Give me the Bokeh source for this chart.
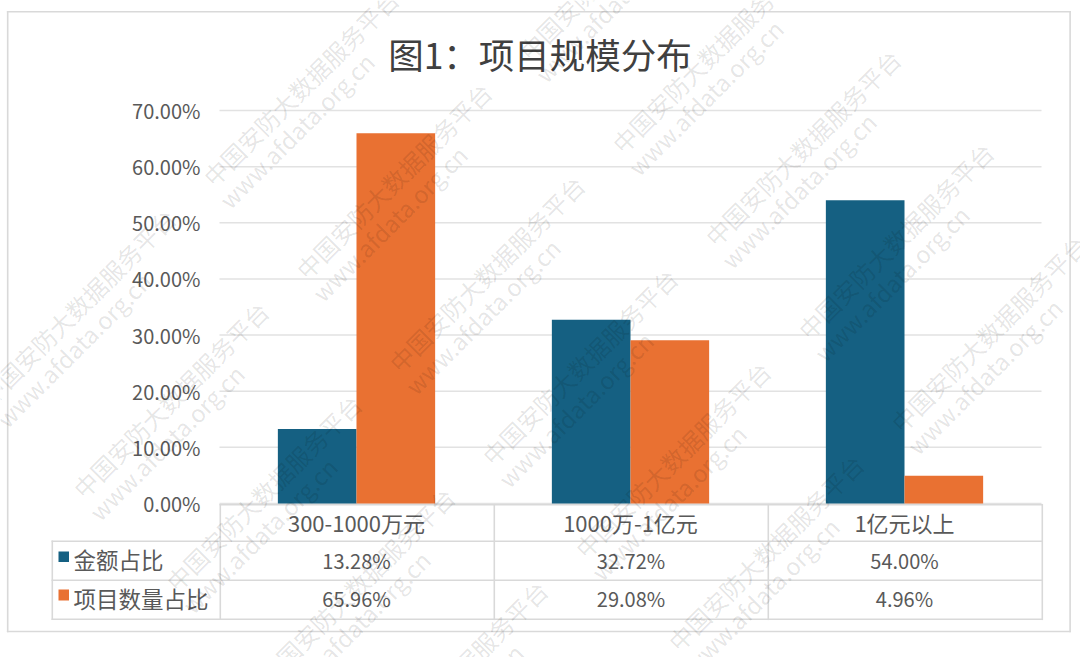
from bokeh.plotting import figure
from bokeh.models import (BoxAnnotation, ColumnDataSource, FixedTicker, Label, LinearAxis,
                          PrintfTickFormatter, Range1d)
from bokeh.embed import file_html
from bokeh.resources import INLINE

TITLE = "图1：项目规模分布"
categories = ["300-1000万元", "1000万-1亿元", "1亿元以上"]
amount_share = [13.28, 32.72, 54.00]
count_share = [65.96, 29.08, 4.96]
series_names = ["金额占比", "项目数量占比"]
y_ticks = [0, 10, 20, 30, 40, 50, 60, 70]
WM_MAIN = "中国安防大数据服务平台"
WM_URL = "www.afdata.org.cn"

BLUE = "#156082"
ORANGE = "#E97132"
GRID = "#e2e2e2"
RULE = "#d9d9d9"
TEXT = "#595959"
FONT = "Noto Sans CJK SC"

W, H = 1080, 657
P_L, P_R, P_T, P_B = 219, 1041, 110, 503  # plot area edges in window pixels
X_PX = (P_R - P_L) / 3
Y_PX = (P_B - P_T) / 70

p = figure(width=W, height=H, output_backend="svg", toolbar_location=None,
           x_range=Range1d(-P_L / X_PX, (W - P_L) / X_PX),
           y_range=Range1d(-(H - P_B) / Y_PX, 70 + P_T / Y_PX),
           x_axis_location=None, y_axis_location=None,
           min_border=0, outline_line_color=None,
           background_fill_color="white", border_fill_color="white")
p.grid.visible = False

centers = [i + 0.5 for i in range(len(categories))]
BAR = 0.287
src = ColumnDataSource(dict(
    x_a=[c - BAR / 2 for c in centers], x_c=[c + BAR / 2 for c in centers],
    amount=amount_share, count=count_share))

# horizontal gridlines
p.segment(x0=[0] * len(y_ticks), x1=[3] * len(y_ticks), y0=y_ticks, y1=y_ticks,
          line_color=GRID, line_width=1.5)

p.vbar(x="x_a", top="amount", width=BAR, source=src, fill_color=BLUE, line_color=None)
p.vbar(x="x_c", top="count", width=BAR, source=src, fill_color=ORANGE, line_color=None)

ya = LinearAxis(fixed_location=0, ticker=FixedTicker(ticks=y_ticks),
                formatter=PrintfTickFormatter(format="%.2f%%"))
ya.axis_line_color = None
ya.major_tick_line_color = None
ya.minor_tick_line_color = None
ya.major_tick_out = 0
ya.major_tick_in = 0
ya.major_label_standoff = 19
ya.major_label_text_font = FONT
ya.major_label_text_font_size = "20px"
ya.major_label_text_color = TEXT
p.add_layout(ya, "left")

xa = LinearAxis(fixed_location=0, ticker=FixedTicker(ticks=centers),
                major_label_overrides=dict(zip(centers, categories)))
xa.axis_line_color = None
xa.major_tick_line_color = None
xa.minor_tick_line_color = None
xa.major_tick_out = 0
xa.major_tick_in = 0
xa.major_label_standoff = 2
xa.major_label_text_font = FONT
xa.major_label_text_font_size = "22px"
xa.major_label_text_color = TEXT
p.add_layout(xa, "below")


def box(x0, x1, y0, y1, color):
    p.add_layout(BoxAnnotation(left=x0, right=x1, top=y0, bottom=y1,
                               left_units="canvas", right_units="canvas",
                               top_units="canvas", bottom_units="canvas",
                               fill_color=color, fill_alpha=1, line_color=None))


def label(x, y, text, size, color=TEXT, angle=0, alpha=1.0, align="center"):
    p.add_layout(Label(x=x, y=H - y, x_units="screen", y_units="screen",
                       text=text, text_font=FONT, text_font_size=size, text_color=color,
                       text_alpha=alpha, text_align=align, text_baseline="middle",
                       angle=angle, angle_units="deg"))


# outer chart frame
LW = 1.6
box(6.4, 1070.4, 10.4, 10.4 + LW, RULE)
box(6.4, 1070.4, 630.2, 630.2 + LW, RULE)
box(6.4, 6.4 + LW, 10.4, 631.8, RULE)
box(1068.8, 1068.8 + LW, 10.4, 631.8, RULE)

label(539.5, 52.5, TITLE, "35.5px", color="#404040")

# data table rules
for y, x0 in [(503.4, 219), (540, 51), (579, 51), (618, 51)]:
    box(x0, 1042, y, y + LW, RULE)
for x, y0 in [(51, 540), (219, 503.4), (493, 503.4), (767, 503.4), (1041, 503.4)]:
    box(x, x + LW, y0, 619.6, RULE)

# legend keys and row headers
box(58, 68.5, 551, 561.5, BLUE)
box(58, 68.5, 589, 600, ORANGE)
label(73, 558, series_names[0], "22.5px", align="left")
label(73, 597, series_names[1], "22.5px", align="left")

# table values
for y, vals in [(559.5, amount_share), (597.5, count_share)]:
    for cx, v in zip([356, 630.5, 904], vals):
        label(cx, y, f"{v:.2f}%", "20px")

# watermark lattice
A = (93, 93)
B = (409, -33)
ORIGIN = (207, 180)
cells = [(-1, 2), (-1, 3), (-1, 4), (-1, 5), (-1, 6),
         (0, 0), (0, 1), (0, 2), (0, 3), (0, 4), (0, 5),
         (1, -1), (1, 0), (1, 1), (1, 2), (1, 3)]
for j, i in cells:
    sx = ORIGIN[0] + i * A[0] + j * B[0]
    sy = ORIGIN[1] + i * A[1] + j * B[1]
    label(sx + 93, sy - 93, WM_MAIN, "24px", color="#000000", angle=45, alpha=0.11)
    label(sx + 89, sy - 50, WM_URL, "23.5px", color="#000000", angle=45, alpha=0.11)

open("out.html", "w").write(file_html(p, INLINE))
